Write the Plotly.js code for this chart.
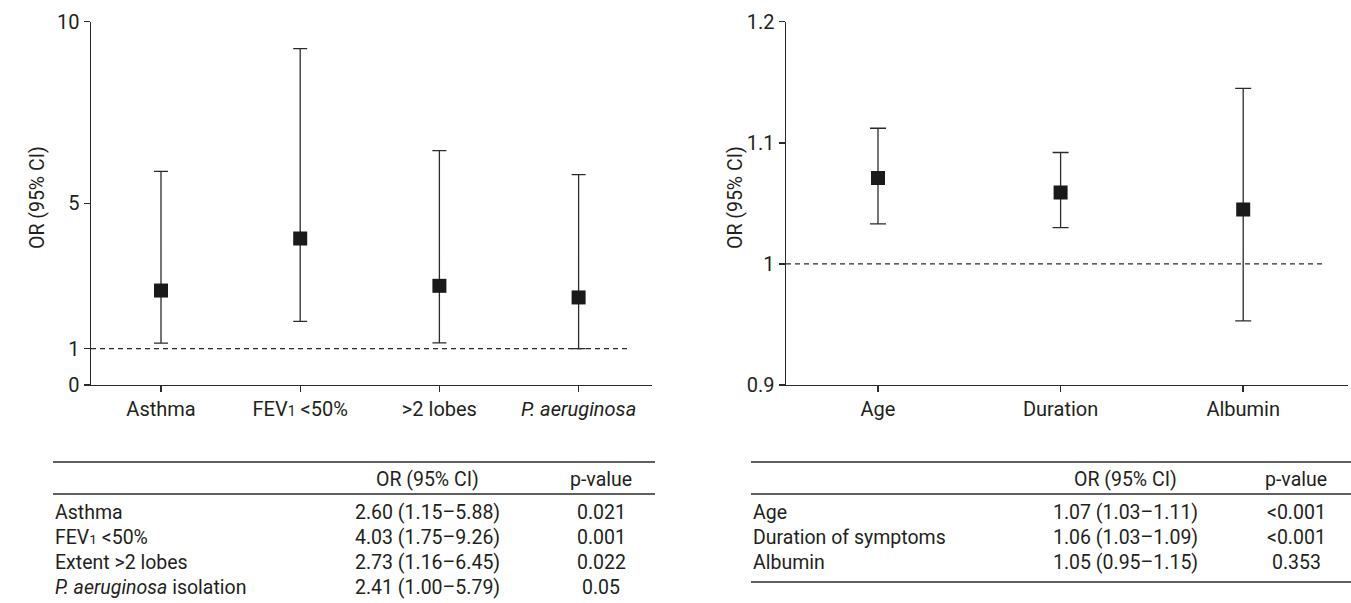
<!DOCTYPE html>
<html>
<head>
<meta charset="utf-8">
<script src="https://cdn.plot.ly/plotly-3.0.1.min.js"></script>
<style>
  html, body { margin: 0; padding: 0; background: #ffffff; }
  #chart { width: 1351px; height: 603px; }
</style>
</head>
<body>
<div id="chart"></div>
<script>
// ---------- data ----------
// Left panel: categorical risk factors
const leftCategories = ['Asthma', 'FEV<span style="font-size:70%">1</span> &lt;50%', '&gt;2 lobes', '<i>P. aeruginosa</i>'];
const leftOR    = [2.60, 4.03, 2.73, 2.41];
const leftLower = [1.15, 1.75, 1.16, 1.00];
const leftUpper = [5.88, 9.26, 6.45, 5.79];
const leftYTicks = [0, 1, 5, 10];

// Left table
const leftTableRows = ['Asthma', 'FEV<span style="font-size:70%">1</span> &lt;50%', 'Extent &gt;2 lobes', '<i>P. aeruginosa</i> isolation'];
const leftTableOR   = ['2.60 (1.15–5.88)', '4.03 (1.75–9.26)', '2.73 (1.16–6.45)', '2.41 (1.00–5.79)'];
const leftTableP    = ['0.021', '0.001', '0.022', '0.05'];

// Right panel: continuous risk factors (as plotted)
const rightCategories = ['Age', 'Duration', 'Albumin'];
const rightOR    = [1.071, 1.059, 1.045];
const rightLower = [1.033, 1.030, 0.953];
const rightUpper = [1.112, 1.092, 1.145];
const rightYTicks = [0.9, 1.0, 1.1, 1.2];
const rightYTickText = ['0.9', '1', '1.1', '1.2'];

// Right table
const rightTableRows = ['Age', 'Duration of symptoms', 'Albumin'];
const rightTableOR   = ['1.07 (1.03–1.11)', '1.06 (1.03–1.09)', '1.05 (0.95–1.15)'];
const rightTableP    = ['&lt;0.001', '&lt;0.001', '0.353'];

const tableHeader = ['OR (95% CI)', 'p-value'];

// ---------- layout helpers ----------
const W = 1351, H = 603;
const px = x => x / W;
const py = y => 1 - y / H;

const FONT = 'Roboto, "Noto Sans", "DejaVu Sans", sans-serif';
const TXT = '#231f20';
const LINE = '#2b2b2b';

// left plot geometry (pixels)
const L = { x0: 91, x1: 652, yTop: 21.7, yBot: 385, cat0: 161, catStep: 139.2, dashEnd: 627 };
// right plot geometry
const R = { x0: 786, x1: 1348, yTop: 21.7, yBot: 385, cat0: 878, catStep: 182.6, dashEnd: 1322 };

const leftX = leftCategories.map((_, i) => i);
const rightX = rightCategories.map((_, i) => i);

const traces = [
  {
    type: 'scatter', mode: 'markers', xaxis: 'x', yaxis: 'y',
    x: leftX, y: leftOR,
    marker: { symbol: 'square', size: 14, color: '#1a1a1a' },
    error_y: {
      type: 'data', symmetric: false,
      array: leftUpper.map((u, i) => u - leftOR[i]),
      arrayminus: leftLower.map((l, i) => leftOR[i] - l),
      color: LINE, thickness: 1.3, width: 7
    },
    hoverinfo: 'skip', showlegend: false
  },
  {
    type: 'scatter', mode: 'markers', xaxis: 'x2', yaxis: 'y2',
    x: rightX, y: rightOR,
    marker: { symbol: 'square', size: 14, color: '#1a1a1a' },
    error_y: {
      type: 'data', symmetric: false,
      array: rightUpper.map((u, i) => u - rightOR[i]),
      arrayminus: rightLower.map((l, i) => rightOR[i] - l),
      color: LINE, thickness: 1.3, width: 8
    },
    hoverinfo: 'skip', showlegend: false
  }
];

const axisCommon = {
  showline: true, linecolor: LINE, linewidth: 1.4,
  ticks: 'outside', ticklen: 6, tickwidth: 1.4, tickcolor: LINE,
  showgrid: false, zeroline: false, fixedrange: true,
  tickfont: { family: FONT, size: 20, color: TXT }
};

const leftXRange = [(L.x0 - L.cat0) / L.catStep, (L.x1 - L.cat0) / L.catStep];
const rightXRange = [(R.x0 - R.cat0) / R.catStep, (R.x1 - R.cat0) / R.catStep];

const shapes = [
  // reference lines at OR = 1
  { type: 'line', xref: 'x', yref: 'y', x0: leftXRange[0], x1: (L.dashEnd - L.cat0) / L.catStep, y0: 1, y1: 1,
    line: { color: LINE, width: 1.2, dash: '5px,4px' } },
  { type: 'line', xref: 'x2', yref: 'y2', x0: rightXRange[0], x1: (R.dashEnd - R.cat0) / R.catStep, y0: 1, y1: 1,
    line: { color: LINE, width: 1.2, dash: '5px,4px' } }
];

// tables
const tables = [
  { x0: 53, x1: 655, orX: 427, pX: 601, rows: leftTableRows, ors: leftTableOR, ps: leftTableP, bottomRule: false },
  { x0: 751, x1: 1351, orX: 1125, pX: 1296, rows: rightTableRows, ors: rightTableOR, ps: rightTableP, bottomRule: true }
];
const ruleTop = 462, ruleMid = 494, headerY = 479, row0 = 512, rowStep = 25, ruleBottom = 582;

const annotations = [];
tables.forEach(t => {
  shapes.push({ type: 'line', xref: 'paper', yref: 'paper', x0: px(t.x0), x1: px(t.x1), y0: py(ruleTop), y1: py(ruleTop), line: { color: LINE, width: 1.4 } });
  shapes.push({ type: 'line', xref: 'paper', yref: 'paper', x0: px(t.x0), x1: px(t.x1), y0: py(ruleMid), y1: py(ruleMid), line: { color: LINE, width: 1.4 } });
  if (t.bottomRule) {
    shapes.push({ type: 'line', xref: 'paper', yref: 'paper', x0: px(t.x0), x1: px(t.x1), y0: py(ruleBottom), y1: py(ruleBottom), line: { color: LINE, width: 1.4 } });
  }
  const f = { family: FONT, size: 19.5, color: TXT };
  annotations.push({ xref: 'paper', yref: 'paper', x: px(t.orX), y: py(headerY), text: tableHeader[0], showarrow: false, xanchor: 'center', yanchor: 'middle', font: f });
  annotations.push({ xref: 'paper', yref: 'paper', x: px(t.pX), y: py(headerY), text: tableHeader[1], showarrow: false, xanchor: 'center', yanchor: 'middle', font: f });
  t.rows.forEach((r, i) => {
    const y = py(row0 + i * rowStep);
    annotations.push({ xref: 'paper', yref: 'paper', x: px(t.x0), y: y, text: r, showarrow: false, xanchor: 'left', yanchor: 'middle', font: f });
    annotations.push({ xref: 'paper', yref: 'paper', x: px(t.orX), y: y, text: t.ors[i], showarrow: false, xanchor: 'center', yanchor: 'middle', font: f });
    annotations.push({ xref: 'paper', yref: 'paper', x: px(t.pX), y: y, text: t.ps[i], showarrow: false, xanchor: 'center', yanchor: 'middle', font: f });
  });
});

// y-axis titles
[[37, 198], [735, 198]].forEach(([x, y]) => {
  annotations.push({ xref: 'paper', yref: 'paper', x: px(x), y: py(y), text: 'OR (95% CI)', textangle: -90,
    showarrow: false, xanchor: 'center', yanchor: 'middle', font: { family: FONT, size: 19.5, color: TXT } });
});

const layout = {
  width: W, height: H,
  margin: { l: 0, r: 0, t: 0, b: 0 },
  paper_bgcolor: '#ffffff', plot_bgcolor: '#ffffff',
  showlegend: false,
  xaxis: Object.assign({}, axisCommon, {
    domain: [px(L.x0), px(L.x1)], range: leftXRange, anchor: 'y',
    tickmode: 'array', tickvals: leftX, ticktext: leftCategories
  }),
  yaxis: Object.assign({}, axisCommon, {
    domain: [py(L.yBot), py(L.yTop)], range: [0, 10], anchor: 'x',
    tickmode: 'array', tickvals: leftYTicks, ticktext: leftYTicks.map(String)
  }),
  xaxis2: Object.assign({}, axisCommon, {
    domain: [px(R.x0), px(R.x1)], range: rightXRange, anchor: 'y2',
    tickmode: 'array', tickvals: rightX, ticktext: rightCategories
  }),
  yaxis2: Object.assign({}, axisCommon, {
    domain: [py(R.yBot), py(R.yTop)], range: [0.9, 1.2], anchor: 'x2',
    tickmode: 'array', tickvals: rightYTicks, ticktext: rightYTickText
  }),
  shapes: shapes,
  annotations: annotations
};

Plotly.newPlot('chart', traces, layout, { displayModeBar: false, staticPlot: true });
</script>
</body>
</html>
